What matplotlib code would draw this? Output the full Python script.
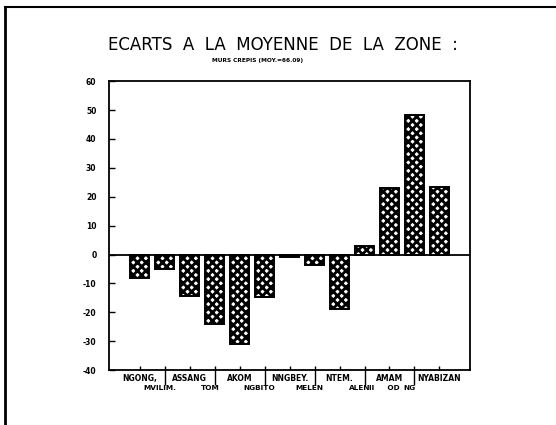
import numpy as np
import matplotlib
matplotlib.use("Agg")
import matplotlib.pyplot as plt
from matplotlib.lines import Line2D
from matplotlib.transforms import ScaledTranslation

# ── data ─────────────────────────────────────────────────────────────────────
TITLE = "ECARTS  A  LA  MOYENNE  DE  LA  ZONE  :"
SUBTITLE = "MURS CREPIS (MOY.=66.09)"

# labels are printed staggered on two rows under the bars
row1_labels = ["NGONG,", "", "ASSANG", "", "AKOM", "", "NNGBEY.", "", "NTEM.",
               "", "AMAM", "", "NYABIZAN"]
row2_labels = ["", "MVILIM.", "", "TOM", "", "NGBITO", "", "MELEN", "", "ALEN",
               "II     OD", "NG", ""]
ecarts = [-8.2, -5.1, -14.3, -24.0, -31.0, -14.8, -0.9, -3.6, -18.8,
          3.1, 22.9, 48.3, 23.3]
y_ticks = [-40, -30, -20, -10, 0, 10, 20, 30, 40, 50, 60]

plt.rcParams["hatch.linewidth"] = 2.0
plt.rcParams["hatch.color"] = "black"

fig = plt.figure(figsize=(5.56, 4.25), dpi=100)
ax = fig.add_axes([0.196, 0.129, 0.649, 0.680])

x = np.arange(len(ecarts))
ax.bar(x, ecarts, width=0.76, facecolor="white", edgecolor="black",
       linewidth=1.4, hatch="xxxx")
ax.axhline(0, color="black", lw=1.3)

ax.set_xlim(-1.24, len(ecarts) - 1 + 1.22)
ax.set_ylim(-40, 60)
ax.set_yticks(y_ticks)
ax.set_yticklabels([str(v) for v in y_ticks], fontsize=5.5, fontweight="bold")
ax.tick_params(axis="y", direction="in", length=4, width=1, pad=9)

ax.set_xticks(x)
ax.set_xticklabels(row1_labels, fontsize=5.5, fontweight="bold")
ax.tick_params(axis="x", which="major", direction="in", length=3, width=1, pad=3)
# long separator ticks under every second bar
ax.xaxis.remove_overlapping_locs = False
ax.set_xticks(x[1::2], minor=True)
ax.tick_params(axis="x", which="minor", direction="out", length=11, width=1)

# second row of labels, printed a little left of the bars
sec = ax.secondary_xaxis("bottom")
sec.set_xticks(x)
sec.set_xticklabels(row2_labels, fontsize=5.3, fontweight="bold")
sec.tick_params(axis="x", length=0, pad=11)
sec.spines["bottom"].set_visible(False)
shift = ScaledTranslation(-5 / 100, 0, fig.dpi_scale_trans)
for lbl in sec.get_xticklabels():
    lbl.set_transform(lbl.get_transform() + shift)

for sp in ax.spines.values():
    sp.set_linewidth(1.3)

fig.text(0.509, 0.895, TITLE, ha="center", va="center", fontsize=12)
fig.text(0.464, 0.857, SUBTITLE, ha="center", va="center", fontsize=4.2,
         fontweight="bold")

# page frame of the scan
fig.add_artist(Line2D([0.009, 0.009], [0.0, 0.983], color="black", lw=2,
                      transform=fig.transFigure))
fig.add_artist(Line2D([0.009, 1.0], [0.983, 0.983], color="black", lw=1.5,
                      transform=fig.transFigure))

fig.savefig("out.png", dpi=100)
